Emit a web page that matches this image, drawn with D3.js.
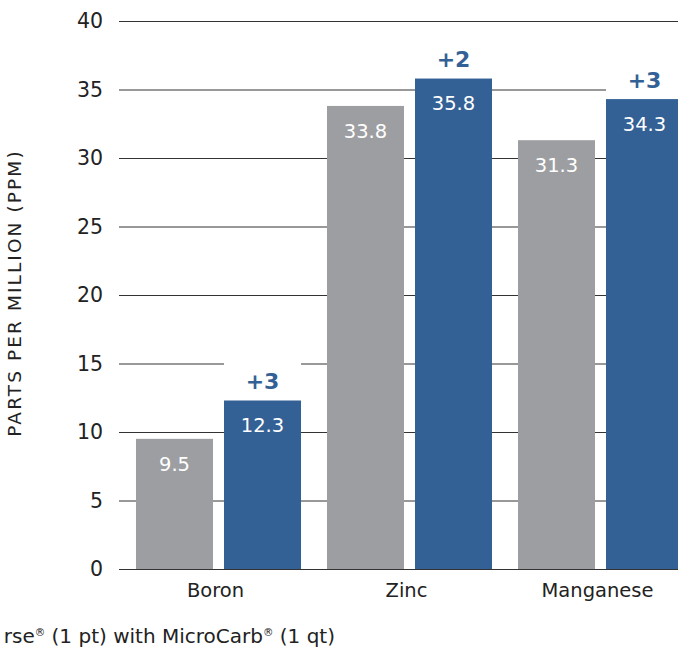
<!DOCTYPE html>
<html>
<head>
<meta charset="utf-8">
<script src="https://cdn.jsdelivr.net/npm/d3@7"></script>
<style>
  body { margin: 0; background: #fff; overflow: hidden; }
  text { font-family: "DejaVu Sans", sans-serif; }
</style>
</head>
<body>
<script>
//=SVG AREA=//
const width = 678;
const height = 649;

//==DATA==//
const categories = ["Boron", "Zinc", "Manganese"];
const series = ["check", "treated"];
const checkValues = [9.5, 33.8, 31.3];
const treatedValues = [12.3, 35.8, 34.3];
const gains = ["+3", "+2", "+3"];
const yTicks = [0, 5, 10, 15, 20, 25, 30, 35, 40];

const grey = "#9d9ea1";
const blue = "#336195";

const svg = d3.select("body")
  .append("svg")
  .attr("width", width)
  .attr("height", height);

//scales
const y = d3.scaleLinear()
  .domain([0, 40])
  .range([569, 21]);

const x = d3.scaleBand()
  .domain(categories)
  .range([123, 696])
  .paddingInner(0.136)
  .paddingOuter(0.068);

const xInner = d3.scaleBand()
  .domain(series)
  .range([0, x.bandwidth()])
  .paddingInner(0.125);

//gridlines + tick labels
const yAxis = d3.axisLeft(y)
  .tickValues(yTicks)
  .tickSize(-(width - 119 + 10))
  .tickPadding(16);

svg.append("g")
  .attr("transform", "translate(119,0)")
  .call(yAxis)
  .call(g => g.select(".domain").remove())
  .call(g => g.selectAll(".tick line").attr("stroke", "#333").attr("stroke-width", 1))
  .call(g => g.selectAll(".tick text")
    .attr("font-family", "DejaVu Sans")
    .attr("font-size", 20.5)
    .attr("fill", "#222")
    .attr("x", -16));

//axis title
svg.append("text")
  .attr("transform", "translate(21,293) rotate(-90)")
  .attr("text-anchor", "middle")
  .attr("font-size", 18.5)
  .attr("letter-spacing", 2.1)
  .attr("fill", "#222")
  .text("PARTS PER MILLION (PPM)");

const groups = svg.append("g")
  .selectAll("g")
  .data(categories)
  .enter()
  .append("g")
  .attr("transform", d => "translate(" + x(d) + ",0)");

//white box behind the gain label (hides gridlines)
groups.append("rect")
  .attr("x", xInner("treated"))
  .attr("y", (d, i) => y(treatedValues[i]) - 45)
  .attr("width", xInner.bandwidth())
  .attr("height", 45)
  .attr("fill", "#fff");

//check bars
groups.append("rect")
  .attr("x", xInner("check"))
  .attr("y", (d, i) => y(checkValues[i]))
  .attr("width", xInner.bandwidth())
  .attr("height", (d, i) => y(0) - y(checkValues[i]))
  .attr("fill", grey);

//treated bars
groups.append("rect")
  .attr("x", xInner("treated"))
  .attr("y", (d, i) => y(treatedValues[i]))
  .attr("width", xInner.bandwidth())
  .attr("height", (d, i) => y(0) - y(treatedValues[i]))
  .attr("fill", blue);

//value labels
groups.append("text")
  .attr("x", xInner("check") + xInner.bandwidth() / 2)
  .attr("y", (d, i) => y(checkValues[i]) + 32)
  .attr("text-anchor", "middle")
  .attr("font-size", 19.5)
  .attr("fill", "#fff")
  .text((d, i) => checkValues[i].toFixed(1));

groups.append("text")
  .attr("x", xInner("treated") + xInner.bandwidth() / 2)
  .attr("y", (d, i) => y(treatedValues[i]) + 31.5)
  .attr("text-anchor", "middle")
  .attr("font-size", 19.5)
  .attr("fill", "#fff")
  .text((d, i) => treatedValues[i].toFixed(1));

//gain labels
groups.append("text")
  .attr("x", xInner("treated") + xInner.bandwidth() / 2)
  .attr("y", (d, i) => y(treatedValues[i]) - 11.5)
  .attr("text-anchor", "middle")
  .attr("font-size", 22)
  .attr("font-weight", "bold")
  .attr("fill", blue)
  .text((d, i) => gains[i]);

//category labels
groups.append("text")
  .attr("x", x.bandwidth() / 2 - 3)
  .attr("y", 597)
  .attr("text-anchor", "middle")
  .attr("font-size", 19.5)
  .attr("fill", "#222")
  .text(d => d);

//legend (starts at the left edge, as in the source)
const legend = svg.append("text")
  .attr("x", 335)
  .attr("y", 643)
  .attr("text-anchor", "end")
  .attr("font-size", 20)
  .attr("fill", "#222");
legend.append("tspan").text("rse");
legend.append("tspan").attr("font-size", 10.5).attr("dy", -7).text("\u00AE");
legend.append("tspan").attr("dy", 7).text(" (1 pt) with MicroCarb");
legend.append("tspan").attr("font-size", 10.5).attr("dy", -7).text("\u00AE");
legend.append("tspan").attr("dy", 7).text(" (1 qt)");
</script>
</body>
</html>
